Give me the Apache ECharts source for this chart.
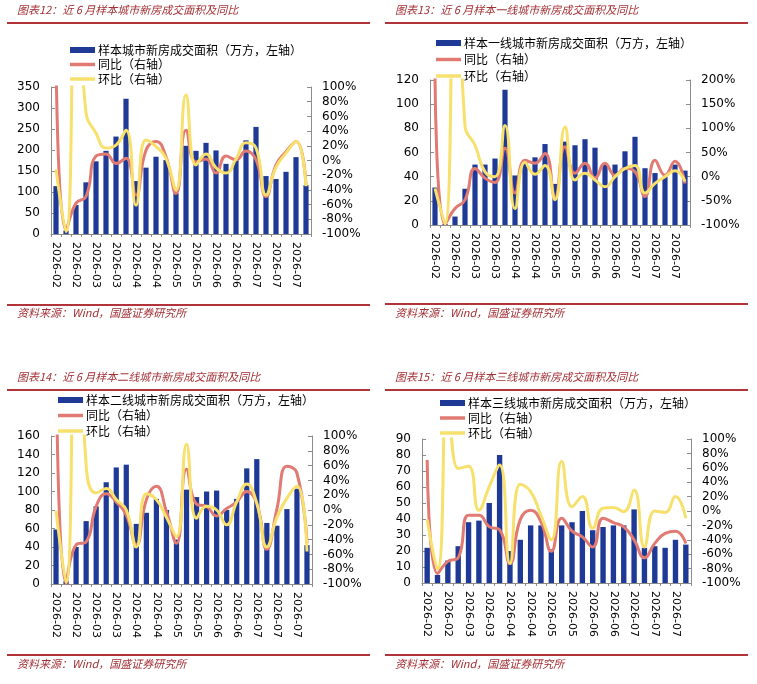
<!DOCTYPE html>
<html>
<head>
<meta charset="utf-8">
<script src="https://cdn.jsdelivr.net/npm/echarts@6/dist/echarts.min.js"></script>
<style>
    html, body { margin: 0; padding: 0; background: #fff; }
    .panel { position: absolute; }
</style>
</head>
<body>
<div id="c1" class="panel" style="left:0;top:0;width:378px;height:342px"></div>
<div id="c2" class="panel" style="left:378px;top:0;width:379px;height:342px"></div>
<div id="c3" class="panel" style="left:0;top:342px;width:378px;height:342px"></div>
<div id="c4" class="panel" style="left:378px;top:342px;width:379px;height:342px"></div>
<script>
// 周度类别（坐标轴隔一个显示一次）
var categories = ['2026-02', '2026-02', '2026-02', '2026-02', '2026-03', '2026-03', '2026-03', '2026-03',
    '2026-04', '2026-04', '2026-04', '2026-04', '2026-05', '2026-05', '2026-05', '2026-05',
    '2026-06', '2026-06', '2026-06', '2026-06', '2026-07', '2026-07', '2026-07', '2026-07',
    '2026-07', '2026-07'];

// 图表12 样本城市
var area1 = [114, 8, 69, 123, 173, 198, 232, 322, 126, 158, 184, 176, 97, 210, 198, 217, 199, 167, 176, 223, 255, 138, 131, 148, 183, 116];
var yoy1 = [150, -95, -58, -49, 6, 9, -4, 3, -47, 14, 26, 5, -45, 41, -2, 2, -17, 6, 1, 13, 1, -49, -6, 12, 26, -33];
var mom1 = [-12, -97, 280, 66, 37, 17, 21, 41, -61, 28, 19, 3, -40, 89, -6, 9, -10, -17, 2, 24, 17, -47, -9, 10, 26, -35];

// 图表13 一线城市
var area2 = [31, 1, 7, 30, 50, 50, 55, 112, 41, 53, 56, 67, 34, 69, 66, 71, 64, 50, 50, 61, 73, 47, 43, 40, 50, 45];
var yoy2 = [210, -98, -66, -48, 17, -3, -12, 59, -34, 34, 28, 48, -43, 62, 7, 28, -3, 28, 3, 17, 10, -41, 34, 3, 32, -14];
var mom2 = [-24, -98, 650, 105, 65, 10, 0, 106, -66, 30, 5, 23, -48, 103, -7, 7, -7, -21, 0, 17, 23, -34, -14, 0, 12, -10];

// 图表14 二线城市
var area3 = [59, 3, 40, 68, 84, 110, 126, 129, 65, 77, 92, 80, 48, 102, 94, 100, 101, 80, 92, 125, 135, 66, 63, 81, 103, 42];
var yoy3 = [230, -99, -47, -43, 5, 22, 11, -7, -47, 14, 32, -2, -45, 55, 8, 5, -8, 2, 11, 25, 9, -53, 1, 59, 50, -45];
var mom3 = [-1, -98, 400, 60, 23, 29, 14, 0, -50, 22, 14, -10, -36, 89, -11, 5, 0, -20, 11, 35, 9, -50, -10, 16, 32, -56];

// 图表15 三线城市
var area4 = [22, 5, 14, 23, 38, 39, 50, 80, 20, 27, 36, 36, 21, 36, 38, 45, 33, 35, 36, 36, 46, 22, 23, 22, 27, 24];
var yoy4 = [71, -87, -70, -65, -6, -6, -22, -26, -73, -12, 1, -15, -56, -10, -28, -36, -50, -10, -16, -22, -40, -65, -45, -31, -28, -45];
var mom4 = [-12, -81, 180, 59, 62, 1, 34, 64, -73, 37, 27, -6, -40, 69, 6, 20, -24, 4, 5, -1, 29, -50, 0, -2, 20, -10];

var YOY_NAME = '同比（右轴）';
var MOM_NAME = '环比（右轴）';
var SOURCE = '资料来源：Wind，国盛证券研究所';
// 图例里的线段图标（不带圆点）
var LINE_ICON = 'path://M0 0H25V3.5H0Z';

var panels = [
    {
        id: 'c1', title: '图表12：近 6 月样本城市新房成交面积及同比',
        barName: '样本城市新房成交面积（万方，左轴）',
        area: area1, yoy: yoy1, mom: mom1,
        left: [0, 350, 50], right: [-100, 100, 20],
        titleY: 10, lineY: 23, legendX: 70, legendY: 44, legendGap: 2.5,
        grid: { left: 51, top: 87, width: 260, height: 147 },
        footY: 305, sourceY: 313
    },
    {
        id: 'c2', title: '图表13：近 6 月样本一线城市新房成交面积及同比',
        barName: '样本一线城市新房成交面积（万方，左轴）',
        area: area2, yoy: yoy2, mom: mom2,
        left: [0, 120, 20], right: [-100, 200, 50],
        titleY: 10, lineY: 23, legendX: 58, legendY: 37, legendGap: 4.5,
        grid: { left: 52, top: 80, width: 260, height: 145 },
        footY: 304, sourceY: 313
    },
    {
        id: 'c3', title: '图表14：近 6 月样本二线城市新房成交面积及同比',
        barName: '样本二线城市新房成交面积（万方，左轴）',
        area: area3, yoy: yoy3, mom: mom3,
        left: [0, 160, 20], right: [-100, 100, 20],
        titleY: 35, lineY: 48, legendX: 58, legendY: 52, legendGap: 3.5,
        grid: { left: 51, top: 94, width: 261, height: 148 },
        footY: 313, sourceY: 322
    },
    {
        id: 'c4', title: '图表15：近 6 月样本三线城市新房成交面积及同比',
        barName: '样本三线城市新房成交面积（万方，左轴）',
        area: area4, yoy: yoy4, mom: mom4,
        left: [0, 90, 10], right: [-100, 100, 20],
        titleY: 35, lineY: 48, legendX: 62, legendY: 55, legendGap: 3,
        grid: { left: 44, top: 97, width: 269, height: 144 },
        footY: 313, sourceY: 322
    }
];

function valueAxis(range, pos, fmt) {
    return {
        type: 'value',
        position: pos,
        min: range[0],
        max: range[1],
        interval: range[2],
        axisLine: { show: true, lineStyle: { color: '#8c8c8c', width: 1 } },
        axisTick: { show: true, inside: true, length: 4, lineStyle: { color: '#8c8c8c' } },
        splitLine: { show: false },
        axisLabel: {
            formatter: fmt, margin: 11, color: '#000',
            fontFamily: 'DejaVu Sans', fontSize: 12
        }
    };
}

function makeOption(p) {
    return {
        animation: false,
        backgroundColor: '#fff',
        graphic: [
            {
                type: 'text', x: 17, y: p.titleY,
                style: {
                    text: p.title, fill: '#a33035', verticalAlign: 'middle',
                    font: 'italic 11px "Noto Sans CJK SC"'
                }
            },
            {
                type: 'line', shape: { x1: 7, y1: p.lineY, x2: 370, y2: p.lineY },
                style: { stroke: '#b0343a', lineWidth: 2 }
            },
            {
                type: 'line', shape: { x1: 7, y1: p.footY, x2: 370, y2: p.footY },
                style: { stroke: '#b0343a', lineWidth: 2 }
            },
            {
                type: 'text', x: 17, y: p.sourceY,
                style: {
                    text: SOURCE, fill: '#a33035', verticalAlign: 'middle',
                    font: 'italic 11px "Noto Sans CJK SC"'
                }
            }
        ],
        legend: {
            orient: 'vertical',
            left: p.legendX,
            top: p.legendY,
            itemWidth: 25,
            itemHeight: 6,
            itemGap: p.legendGap,
            padding: 0,
            textStyle: { fontFamily: 'Noto Sans CJK SC', fontSize: 12, color: '#000', padding: [0, 0, 0, -2] },
            data: [
                { name: p.barName, icon: 'rect' },
                { name: YOY_NAME, icon: LINE_ICON },
                { name: MOM_NAME, icon: LINE_ICON }
            ]
        },
        grid: p.grid,
        xAxis: {
            type: 'category',
            data: categories,
            axisLine: { lineStyle: { color: '#8c8c8c', width: 1 } },
            axisTick: { show: true, interval: 0, length: 3, lineStyle: { color: '#8c8c8c' } },
            axisLabel: {
                interval: 1, rotate: -90, margin: 8, color: '#000',
                fontFamily: 'DejaVu Sans', fontSize: 11
            }
        },
        yAxis: [
            valueAxis(p.left, 'left', '{value}'),
            valueAxis(p.right, 'right', '{value}%')
        ],
        series: [
            {
                name: p.barName, type: 'bar', data: p.area,
                barWidth: '52%', itemStyle: { color: '#1e3a96' }
            },
            {
                name: YOY_NAME, type: 'line', yAxisIndex: 1, data: p.yoy,
                smooth: true, symbol: 'none',
                lineStyle: { color: '#e07a72', width: 3 }, itemStyle: { color: '#e07a72' }
            },
            {
                name: MOM_NAME, type: 'line', yAxisIndex: 1, data: p.mom,
                smooth: true, symbol: 'none',
                lineStyle: { color: '#f7e06c', width: 3 }, itemStyle: { color: '#f7e06c' }
            }
        ]
    };
}

panels.forEach(function (p) {
    var chart = echarts.init(document.getElementById(p.id));
    chart.setOption(makeOption(p));
});
</script>
</body>
</html>
